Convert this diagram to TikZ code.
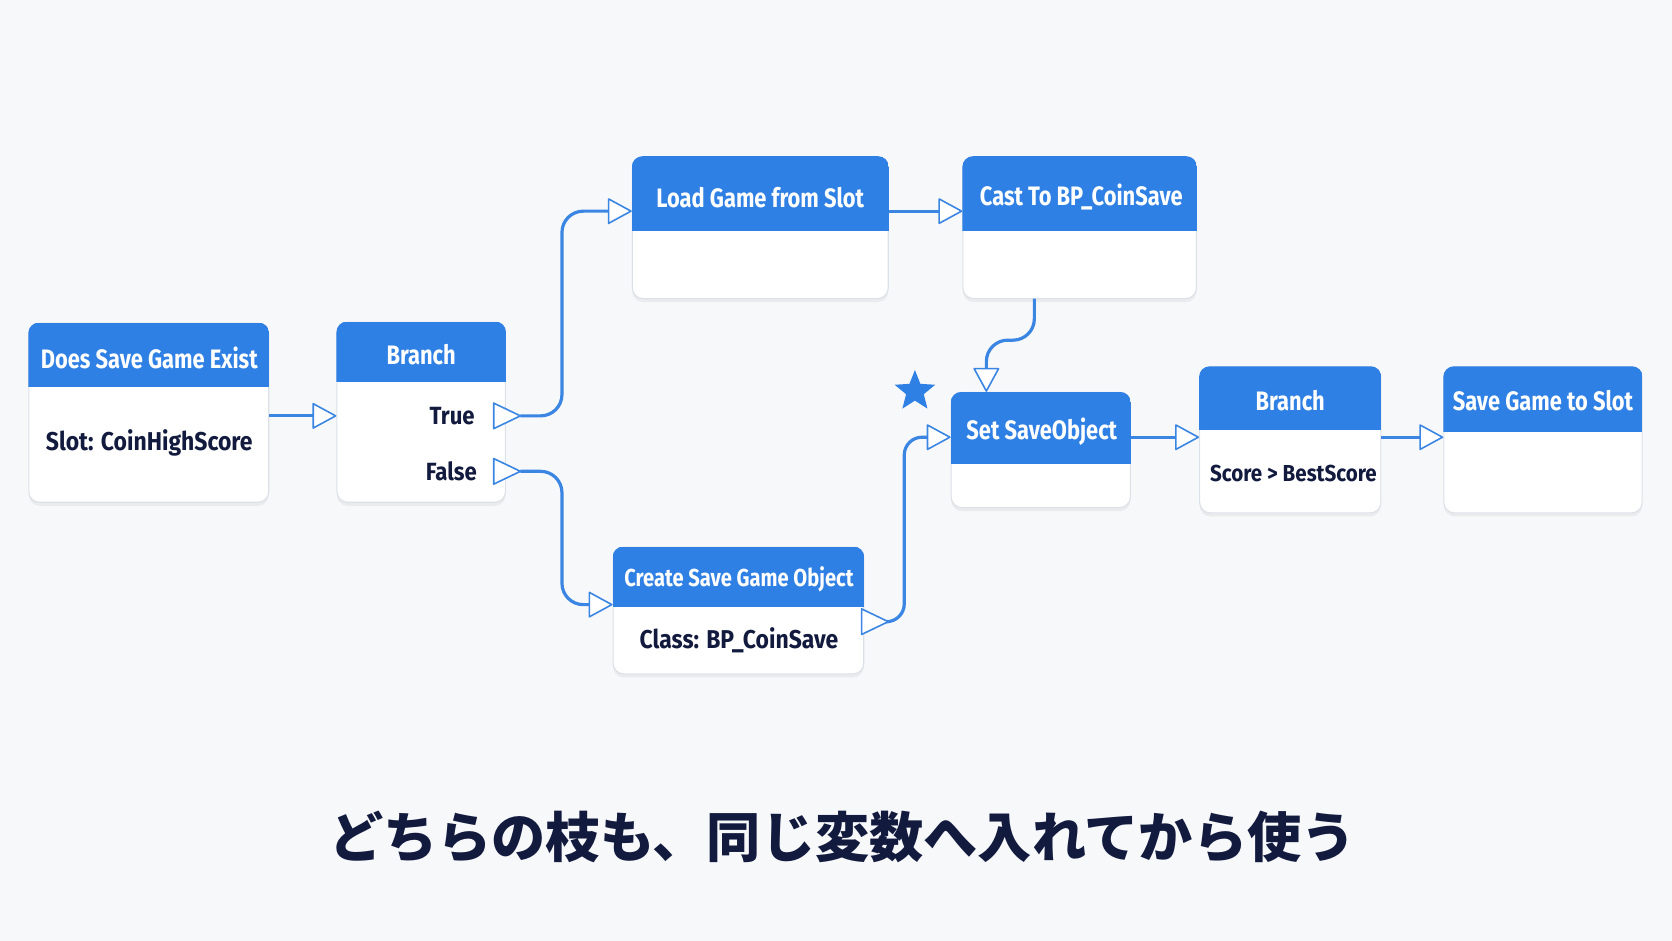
\documentclass[tikz,border=0pt]{standalone}
\usepackage{fontspec}
\usepackage{tikz}
\usetikzlibrary{positioning,arrows.meta,fit,shadows,shapes.geometric}
\usepackage{xcolor}
\newfontfamily\nodefont[FakeStretch=0.82]{Fira Sans}
\newfontfamily\bodyfont[FakeStretch=0.89]{Fira Sans}
\newfontfamily\cjkfont{Noto Sans CJK JP}
\definecolor{hdr}{HTML}{2F80E4}
\definecolor{wire}{HTML}{3A86E2}
\definecolor{ink}{HTML}{121A3E}
\definecolor{paper}{HTML}{F7F8FA}
\definecolor{edge}{HTML}{DCE0E7}
\tikzset{
  card/.style={draw=edge, fill=white, line width=0.6pt, rounded corners=6, inner sep=0pt,
    drop shadow={opacity=0.10, shadow xshift=0pt, shadow yshift=-2pt}},
  head/.style={fill=hdr},
  cardtitle/.style={text=white, font=\nodefont\bfseries\fontsize{15}{17}\selectfont},
  cardtext/.style={text=ink, font=\bodyfont\bfseries\fontsize{14.5}{17}\selectfont},
  wire/.style={draw=wire, line width=1.8pt, rounded corners=12},
  pinin/.style={-{Triangle[length=14pt, width=15pt, fill=white, line width=0.9pt, round]}},
  pinout/.style={draw=wire, fill=white, line width=0.9pt, line join=round}
}
\begin{document}
\begin{tikzpicture}[x=0.6pt, y=-0.6pt]
  \fill[paper] (0,0) rectangle (1568,882);
  \useasboundingbox (0,0) rectangle (1568,882);
  % cards
  \node[card, fit={(27,303)(252,471)}] (exist) {};
  \node[card, fit={(316,302)(474,471)}] (branchA) {};
  \node[card, fit={(593,147)(833,280)}] (load) {};
  \node[card, fit={(903,147)(1122,280)}] (cast) {};
  \node[card, fit={(575,513)(810,632)}] (create) {};
  \node[card, fit={(892,368)(1060,476)}] (setobj) {};
  \node[card, fit={(1125,344)(1295,481)}] (branchB) {};
  \node[card, fit={(1354,344)(1540,481)}] (save) {};
  % headers
  \begin{scope}\clip[rounded corners=6] (exist.north west) rectangle (exist.south east);
    \fill[head] (exist.north west) rectangle (exist.east |- 0,363);\end{scope}
  \begin{scope}\clip[rounded corners=6] (branchA.north west) rectangle (branchA.south east);
    \fill[head] (branchA.north west) rectangle (branchA.east |- 0,358);\end{scope}
  \begin{scope}\clip[rounded corners=6] (load.north west) rectangle (load.south east);
    \fill[head] (load.north west) rectangle (load.east |- 0,217);\end{scope}
  \begin{scope}\clip[rounded corners=6] (cast.north west) rectangle (cast.south east);
    \fill[head] (cast.north west) rectangle (cast.east |- 0,217);\end{scope}
  \begin{scope}\clip[rounded corners=6] (create.north west) rectangle (create.south east);
    \fill[head] (create.north west) rectangle (create.east |- 0,569);\end{scope}
  \begin{scope}\clip[rounded corners=6] (setobj.north west) rectangle (setobj.south east);
    \fill[head] (setobj.north west) rectangle (setobj.east |- 0,435);\end{scope}
  \begin{scope}\clip[rounded corners=6] (branchB.north west) rectangle (branchB.south east);
    \fill[head] (branchB.north west) rectangle (branchB.east |- 0,403);\end{scope}
  \begin{scope}\clip[rounded corners=6] (save.north west) rectangle (save.south east);
    \fill[head] (save.north west) rectangle (save.east |- 0,405);\end{scope}
  % titles and texts
  \node[cardtitle] (existT) at (140,336) {Does Save Game Exist};
  \node[cardtext] (existS) at (140,415) {Slot: CoinHighScore};
  \node[cardtitle] (branchAT) at (395,333) {Branch};
  \node[cardtext, anchor=east, font=\bodyfont\bfseries\fontsize{14}{17}\selectfont] (trueL) at (451,390) {True};
  \node[cardtext, anchor=east, font=\bodyfont\bfseries\fontsize{14}{17}\selectfont] (falseL) at (453,442) {False};
  \node[cardtitle] (loadT) at (713,185) {Load Game from Slot};
  \node[cardtitle] (castT) at (1014,185) {Cast To BP\_CoinSave};
  \node[cardtitle, font=\nodefont\bfseries\fontsize{13.8}{17}\selectfont] (createT) at (693,543) {Create Save Game Object};
  \node[cardtext] (createS) at (693,600) {Class: BP\_CoinSave};
  \node[cardtitle] (setT) at (977,405) {Set SaveObject};
  \node[cardtitle] (branchBT) at (1210,376) {Branch};
  \node[cardtext, font=\bodyfont\bfseries\fontsize{13}{17}\selectfont] (branchBS) at (1213,444) {Score > BestScore};
  \node[cardtitle] (saveT) at (1447,376) {Save Game to Slot};
  % pins
  \draw[pinout] (463,378) -- (488,390) -- (463,402) -- cycle;
  \draw[pinout] (463,430) -- (488,442) -- (463,454) -- cycle;
  \draw[pinout] (808,571) -- (833,583) -- (808,595) -- cycle;
  \coordinate (trueOut) at (488,390);
  \coordinate (falseOut) at (488,442);
  \coordinate (createOut) at (833,583);
  \coordinate (castOut) at (970,280);
  % wires
  \draw[wire, pinin] (exist.east |- 0,390) -- (branchA.west |- 0,390);
  \draw[wire, pinin] (trueOut) -- (527,390) -- (527,198) -- (load.west |- 0,198);
  \draw[wire, pinin] (falseOut) -- (527,442) -- (527,567) -- (create.west |- 0,567);
  \draw[wire, pinin] (load.east |- 0,198) -- (cast.west |- 0,198);
  \draw[wire, pinin] (castOut) -- (970,319) -- (925,319) -- (setobj.north -| 925,0);
  \draw[wire, pinin, rounded corners=10] (createOut) -- (848,583) -- (848,410) -- (setobj.west |- 0,410);
  \draw[wire, pinin] (setobj.east |- 0,410) -- (branchB.west |- 0,410);
  \draw[wire, pinin] (branchB.east |- 0,410) -- (save.west |- 0,410);
  % star
  \node[star, star points=5, star point ratio=2.3, fill=hdr, inner sep=0pt, minimum size=24pt] (starmark) at (858,367) {};
  % caption
  \node[text=ink, font=\cjkfont\bfseries\fontsize{30.5}{34}\selectfont] (caption) at (790,785) {どちらの枝も、同じ変数へ入れてから使う};
\end{tikzpicture}
\end{document}
